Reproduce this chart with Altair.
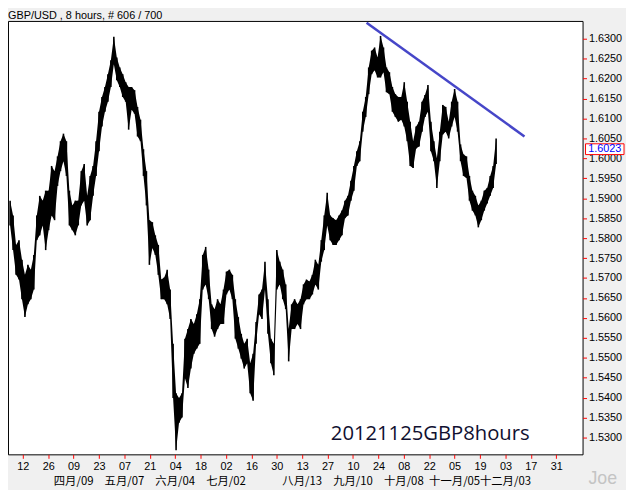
import altair as alt
import pandas as pd

# ---- data: high / low of each ~3.5-bar column (8-hour bars) ----
highs = [1.5894, 1.5857, 1.5783, 1.5795, 1.5746, 1.5708, 1.5733, 1.5721, 1.5758, 1.5857,
         1.5906, 1.5894, 1.5919, 1.5919, 1.5981, 1.5968, 1.6005, 1.6043, 1.6062, 1.6043,
         1.5919, 1.5882, 1.5894, 1.5894, 1.5968, 1.5986, 1.5906, 1.5956, 1.5981, 1.6043,
         1.6117, 1.6154, 1.6179, 1.6211, 1.6246, 1.6305, 1.6253, 1.6228, 1.6211, 1.6191,
         1.6179, 1.6179, 1.6171, 1.6129, 1.6097, 1.6023, 1.5968, 1.5845, 1.5840, 1.5807,
         1.5783, 1.5696, 1.5701, 1.5721, 1.5671, 1.5535, 1.5411, 1.5399, 1.5411, 1.5548,
         1.5572, 1.5597, 1.5585, 1.5609, 1.5647, 1.5758, 1.5778, 1.5721, 1.5634, 1.5622,
         1.5647, 1.5634, 1.5671, 1.5716, 1.5721, 1.5708, 1.5647, 1.5602, 1.5560, 1.5535,
         1.5548, 1.5486, 1.5510, 1.5590, 1.5659, 1.5671, 1.5741, 1.5647, 1.5548, 1.5535,
         1.5770, 1.5741, 1.5721, 1.5684, 1.5572, 1.5634, 1.5647, 1.5634, 1.5647, 1.5684,
         1.5696, 1.5691, 1.5708, 1.5746, 1.5733, 1.5795, 1.5857, 1.5914, 1.5857, 1.5850,
         1.5845, 1.5857, 1.5869, 1.5894, 1.5906, 1.5944, 1.5981, 1.6018, 1.6043, 1.6117,
         1.6154, 1.6228, 1.6270, 1.6278, 1.6253, 1.6307, 1.6278, 1.6228, 1.6216, 1.6179,
         1.6161, 1.6154, 1.6154, 1.6191, 1.6142, 1.6092, 1.6043, 1.6080, 1.6092, 1.6142,
         1.6159, 1.6184, 1.6092, 1.6043, 1.6000, 1.6067, 1.6134, 1.6129, 1.6092, 1.6142,
         1.6174, 1.6142, 1.6035, 1.6010, 1.6005, 1.5956, 1.5919, 1.5906, 1.5882, 1.5894,
         1.5919, 1.5926, 1.5956, 1.5981, 1.6050]
lows = [1.5832, 1.5770, 1.5708, 1.5696, 1.5647, 1.5602, 1.5634, 1.5647, 1.5671, 1.5795,
        1.5807, 1.5832, 1.5770, 1.5820, 1.5857, 1.5845, 1.5931, 1.5968, 1.5993, 1.5956,
        1.5832, 1.5820, 1.5807, 1.5832, 1.5882, 1.5894, 1.5832, 1.5845, 1.5906, 1.5956,
        1.6018, 1.6080, 1.6117, 1.6142, 1.6179, 1.6236, 1.6196, 1.6179, 1.6154, 1.6142,
        1.6072, 1.6122, 1.6112, 1.6055, 1.6043, 1.5956, 1.5882, 1.5733, 1.5775, 1.5758,
        1.5708, 1.5647, 1.5647, 1.5634, 1.5597, 1.5399, 1.5268, 1.5337, 1.5350, 1.5449,
        1.5424, 1.5473, 1.5510, 1.5523, 1.5535, 1.5671, 1.5684, 1.5647, 1.5572, 1.5553,
        1.5572, 1.5585, 1.5585, 1.5659, 1.5671, 1.5647, 1.5548, 1.5523, 1.5498, 1.5473,
        1.5486, 1.5411, 1.5392, 1.5535, 1.5609, 1.5597, 1.5671, 1.5560, 1.5486, 1.5456,
        1.5671, 1.5684, 1.5647, 1.5622, 1.5491, 1.5572, 1.5572, 1.5585, 1.5572, 1.5634,
        1.5647, 1.5647, 1.5659, 1.5684, 1.5671, 1.5741, 1.5770, 1.5832, 1.5795, 1.5783,
        1.5783, 1.5795, 1.5807, 1.5850, 1.5857, 1.5894, 1.5919, 1.5981, 1.5993, 1.6067,
        1.6104, 1.6161, 1.6211, 1.6221, 1.6203, 1.6203, 1.6216, 1.6166, 1.6161, 1.6117,
        1.6104, 1.6092, 1.6097, 1.6080, 1.6043, 1.5981, 1.5976, 1.6025, 1.6030, 1.6067,
        1.6104, 1.6117, 1.6018, 1.5993, 1.5926, 1.5993, 1.6060, 1.6067, 1.6050, 1.6080,
        1.6104, 1.6067, 1.5993, 1.5956, 1.5951, 1.5894, 1.5869, 1.5857, 1.5827, 1.5845,
        1.5869, 1.5887, 1.5906, 1.5926, 1.5986]
bars_per_column = 3.5
bars = [i * bars_per_column for i in range(len(highs))]

day_labels = ["12", "26", "09", "23", "07", "21", "04", "18", "02", "16", "30",
              "13", "27", "10", "24", "08", "22", "05", "19", "03", "17", "31"]
tick_bars = [15 + 30 * j for j in range(len(day_labels))]
month_labels = ["四月/09", "五月/07", "六月/04", "七月/02", "八月/13",
                "九月/10", "十月/08", "十一月/05", "十二月/03"]
month_tick_index = [2, 4, 6, 8, 11, 13, 15, 17, 19]
y_ticks = [1.530, 1.535, 1.540, 1.545, 1.550, 1.555, 1.560, 1.565, 1.570, 1.575,
           1.580, 1.585, 1.590, 1.595, 1.600, 1.605, 1.610, 1.615, 1.620, 1.625, 1.630]

trend_bar = [421, 607.5]
trend_price = [1.6340, 1.6055]
last_price = 1.6023

title_text = "GBP/USD , 8 hours, # 606 / 700"
note_text = "20121125GBP8hours"
watermark = "Joe"

# ---- chart ----
W, H = 582, 439
x_scale = alt.Scale(domain=[-2.5, 676.1], nice=False, zero=False)
y_scale = alt.Scale(domain=[1.525792, 1.634455], nice=False, zero=False)

label_expr = "[" + ",".join("'%s'" % s for s in day_labels) + "][round((datum.value-15)/30)]"

price_df = pd.DataFrame({"bar": bars, "high": highs, "low": lows})

x_axis = alt.Axis(values=tick_bars, tickCount=200, labelExpr=label_expr, title=None, grid=False,
                  domain=False, tickColor="red", tickSize=4, tickWidth=1, labelPadding=2,
                  labelFont="Liberation Sans", labelFontSize=11, labelColor="black",
                  labelAngle=0, labelOverlap=False, labelFlush=False)
y_axis = alt.Axis(orient="right", values=y_ticks, tickCount=200, format=".4f", title=None,
                  grid=False, domain=False, tickColor="red", tickSize=4, tickWidth=1,
                  labelPadding=2, labelFont="Liberation Sans", labelFontSize=11,
                  labelColor="black", labelOverlap=False, labelFlush=False)

band_layer = alt.Chart(price_df).mark_area(color="black", opacity=1, interpolate="linear").encode(
    x=alt.X("bar:Q", scale=x_scale, axis=x_axis),
    y=alt.Y("high:Q", scale=y_scale, axis=y_axis),
    y2="low:Q",
)
price_layer = alt.Chart(price_df).mark_rule(color="black", strokeWidth=1.6).encode(
    x=alt.X("bar:Q", scale=x_scale),
    y=alt.Y("high:Q", scale=y_scale),
    y2="low:Q",
)

trend_df = pd.DataFrame({"bar": trend_bar, "price": trend_price})
trend_layer = alt.Chart(trend_df).mark_line(color="#4646C8", strokeWidth=2.6).encode(
    x=alt.X("bar:Q", scale=x_scale),
    y=alt.Y("price:Q", scale=y_scale),
)

month_df = pd.DataFrame({"bar": [tick_bars[i] for i in month_tick_index], "label": month_labels})
month_layer = alt.Chart(month_df).mark_text(
    font="Noto Sans CJK SC", fontSize=11.5, color="black", baseline="middle", align="center"
).encode(
    x=alt.X("bar:Q", scale=x_scale),
    y=alt.value(H + 28),
    text="label:N",
)

title_layer = alt.Chart(pd.DataFrame({"t": [title_text]})).mark_text(
    font="Liberation Sans", fontSize=11, color="black", align="left", baseline="alphabetic"
).encode(x=alt.value(0), y=alt.value(-1.5), text="t:N")

note_layer = alt.Chart(pd.DataFrame({"t": [note_text]})).mark_text(
    font="Open Sans", fontSize=20.5, color="#101030", align="left", baseline="alphabetic"
).encode(x=alt.value(327), y=alt.value(424), text="t:N")

joe_layer = alt.Chart(pd.DataFrame({"t": [watermark]})).mark_text(
    font="Liberation Sans", fontSize=18, color="#C4C4C4", align="right", baseline="alphabetic"
).encode(x=alt.value(617), y=alt.value(469), text="t:N")

last_df = pd.DataFrame({"price": [last_price], "label": ["%.4f" % last_price]})
box_layer = alt.Chart(last_df).mark_point(
    shape="M-1,-0.28L1,-0.28L1,0.28L-1,0.28Z", size=1521, filled=True,
    fill="white", stroke="red", strokeWidth=1, opacity=1, fillOpacity=1
).encode(x=alt.value(604.5), y=alt.Y("price:Q", scale=y_scale))
box_text = alt.Chart(last_df).mark_text(
    font="Liberation Sans", fontSize=11, color="#0000FF", align="center", baseline="middle"
).encode(x=alt.value(604.5), y=alt.Y("price:Q", scale=y_scale), text="label:N")

chart = alt.layer(
    band_layer, price_layer, trend_layer, month_layer, title_layer, note_layer, joe_layer,
    box_layer, box_text
).properties(
    width=W, height=H,
    padding={"left": 0, "top": 10, "right": 44, "bottom": 33},
    autosize=alt.AutoSizeParams(type="none"),
    background="#F0F0F0",
).configure_view(fill="white", stroke="black", strokeWidth=1)

chart.save("out.html", embed_options={"renderer": "svg", "actions": False})
